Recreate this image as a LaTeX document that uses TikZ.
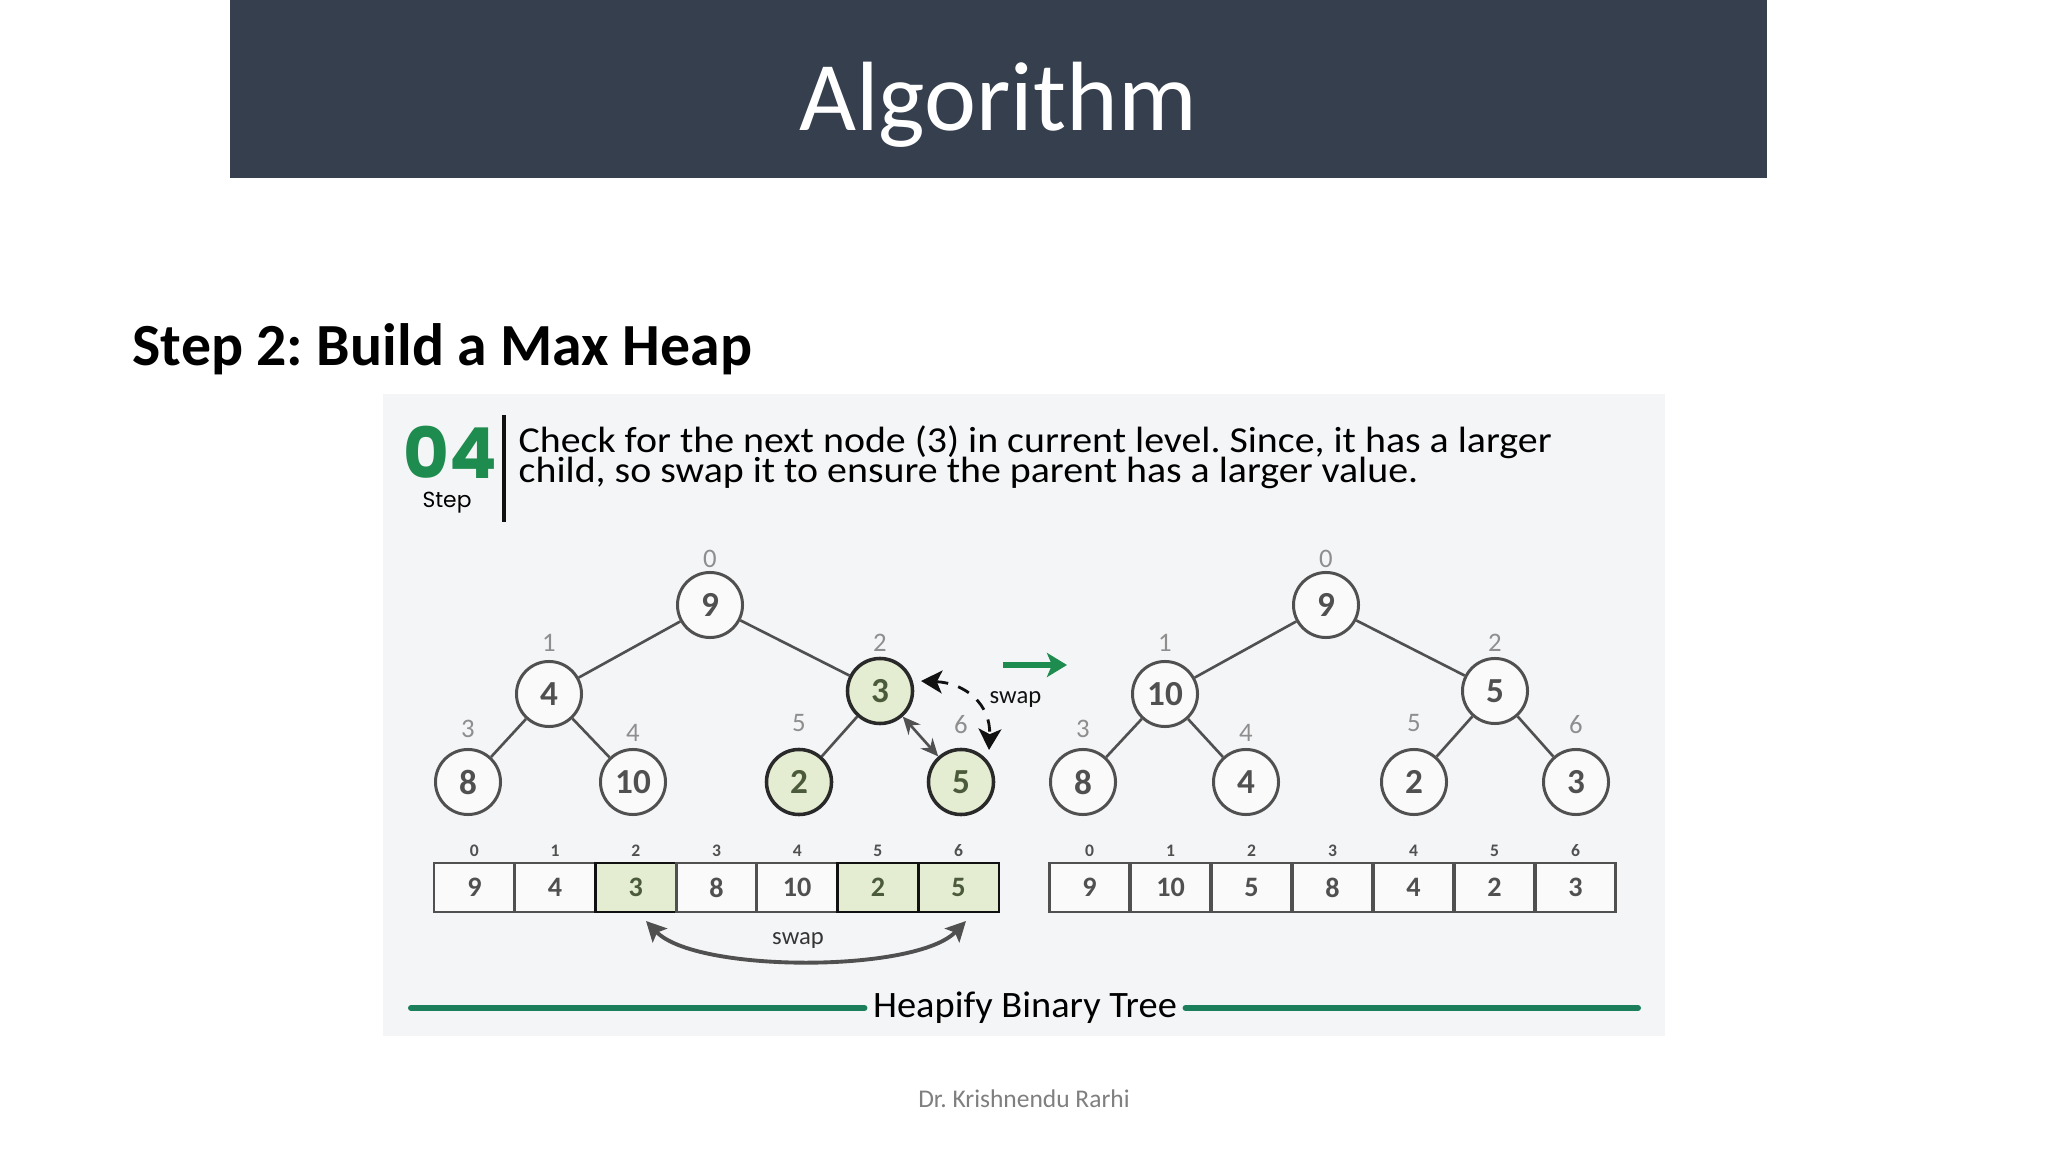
\documentclass[tikz,border=0pt]{standalone}
\usepackage{fontspec}
\setmainfont{Carlito}
\newfontfamily\descfont[FakeStretch=1.09]{Carlito}
\newfontfamily\bandfont[FakeStretch=1.03]{Carlito}
\newfontfamily\stepfont{Poppins}
\usetikzlibrary{arrows.meta,positioning,calc}
\definecolor{titlebar}{HTML}{353F4E}
\definecolor{panel}{HTML}{F4F5F7}
\definecolor{ink}{HTML}{111111}
\definecolor{nodegray}{HTML}{505050}
\definecolor{idxgray}{HTML}{8E8E8E}
\definecolor{hlfill}{HTML}{E4EDD1}
\definecolor{hltext}{HTML}{4A5A3A}
\definecolor{stepgreen}{HTML}{1E8C4E}
\definecolor{rulegreen}{HTML}{1B7F5C}
\definecolor{footgray}{HTML}{7F7F7F}
\frenchspacing
\tikzset{
  heapnode/.style={
    draw=nodegray, fill=white!55!panel, circle, line width=0.85pt,
    minimum size=0.65cm, inner sep=0pt,
    font=\bfseries\fontsize{10}{11}\selectfont, text=nodegray
  },
  hlnode/.style={heapnode, draw=ink!90, line width=1pt, fill=hlfill, text=hltext},
  idxlabel/.style={font=\fontsize{7.6}{8}\selectfont, text=idxgray, inner sep=0pt},
  treeedge/.style={draw=nodegray, line width=0.75pt},
  cell/.style={
    draw=nodegray, fill=white!55!panel, line width=0.8pt,
    minimum width=0.807cm, minimum height=0.49cm, inner sep=0pt,
    font=\bfseries\fontsize{8}{9}\selectfont, text=nodegray
  },
  hlcell/.style={cell, draw=ink, fill=hlfill, text=hltext},
  celltag/.style={font=\bfseries\fontsize{5}{6}\selectfont, text=nodegray, inner sep=0pt},
  swaptext/.style={font=\fontsize{7}{8}\selectfont, text=ink, inner sep=0pt}
}
\begin{document}
\begin{tikzpicture}[x=0.01cm,y=-0.01cm,>=Stealth]
  \fill[white] (0,0) rectangle (2048,1152);
  \useasboundingbox (0,0) rectangle (2048,1152);
  % slide frame
  \fill[titlebar] (230,0) rectangle (1767,178);
  \node[anchor=base, text=white, font=\fontsize{28}{30}\selectfont] (title) at (998,131) {Algorithm};
  \node[anchor=base west, inner sep=0pt, font=\bfseries\fontsize{17}{20}\selectfont] (heading) at (132,366) {Step 2: Build a Max Heap};
  \fill[panel] (383,394) rectangle (1665,1036);
  % step header
  \node[anchor=base west, inner sep=0pt, text depth=0pt, text=stepgreen, font=\stepfont\bfseries\fontsize{20}{22}\selectfont] (stepnum) at (403,479) {04};
  \node[anchor=base, inner sep=0pt, font=\stepfont\fontsize{6.2}{7}\selectfont] (steplbl) at (447,508) {Step};
  \draw[ink, line width=0.9pt] (504,415) -- (504,522);
  \node[anchor=base west, inner sep=0pt, font=\descfont\fontsize{10.4}{12}\selectfont] (desc1) at (518,453)
    {Check for the next node (3) in current level. Since, it has a larger};
  \node[anchor=base west, inner sep=0pt, font=\descfont\fontsize{10.4}{12}\selectfont] (desc2) at (518,483)
    {child, so swap it to ensure the parent has a larger value.};
  % left tree (before)
  \foreach \n/\x/\y/\ly/\v/\st in {0/710/605/559/9/heapnode,1/549/694/643/4/heapnode,2/880/691/643/3/hlnode,
      3/468/782/729/8/heapnode,4/633/782/733/10/heapnode,5/799/782/723/2/hlnode,6/961/782/725/5/hlnode} {
    \node[\st] (lt\n) at (\x,\y) {\v};
    \node[idxlabel] (ltidx\n) at (\x,\ly) {\n};
  }
  \draw[treeedge] (lt0) -- (lt1);
  \draw[treeedge] (lt0) -- (lt2);
  \draw[treeedge] (lt1) -- (lt3);
  \draw[treeedge] (lt1) -- (lt4);
  \draw[treeedge] (lt2) -- (lt5);
  \draw[treeedge, {Stealth[length=5pt,width=4.5pt]}-{Stealth[length=5pt,width=4.5pt]}] (lt2) -- (lt6);
  \coordinate (dashA) at (921,681);
  \coordinate (dashB) at (989,750);
  \draw[ink, line width=0.8pt, dash pattern=on 3.5pt off 3pt, {Stealth[length=6pt,width=6.5pt,inset=1.5pt]}-{Stealth[length=6pt,width=6.5pt,inset=1.5pt]}]
    (dashA) .. controls +(45,2) and +(2,-45) .. (dashB);
  \node[swaptext, anchor=west] (swapup) at (989,700) {swap};
  % green step arrow
  \coordinate (goA) at (1003,665);
  \coordinate (goB) at (1067,665);
  \draw[stepgreen, line width=1.5pt, -{Stealth[length=0.2cm,width=0.24cm,inset=0.05cm]}] (goA) -- (goB);
  % right tree (after)
  \foreach \n/\x/\y/\ly/\v in {0/1326/605/559/9,1/1165/694/643/10,2/1495/691/643/5,
      3/1083/782/729/8,4/1246/782/733/4,5/1414/782/723/2,6/1576/782/725/3} {
    \node[heapnode] (rt\n) at (\x,\y) {\v};
    \node[idxlabel] (rtidx\n) at (\x,\ly) {\n};
  }
  \foreach \a/\b in {0/1,0/2,1/3,1/4,2/5,2/6}
    \draw[treeedge] (rt\a) -- (rt\b);
  % arrays
  \foreach \i/\v/\st in {0/9/cell,1/4/cell,2/3/hlcell,3/8/cell,4/10/cell,5/2/hlcell,6/5/hlcell} {
    \node[\st] (la\i) at ({474.4+80.7*\i},887.5) {\v};
    \node[celltag] (latag\i) at ({474.4+80.7*\i},851) {\i};
  }
  \foreach \i/\v in {0/9,1/10,2/5,3/8,4/4,5/2,6/3} {
    \node[cell] (ra\i) at ({1089.5+81*\i},887.5) {\v};
    \node[celltag] (ratag\i) at ({1089.5+81*\i},851) {\i};
  }
  \coordinate (swapL) at (646,921);
  \coordinate (swapR) at (966,921);
  \draw[nodegray, line width=1.1pt, {Stealth[length=0.2cm,width=0.2cm,inset=0.04cm]}-{Stealth[length=0.2cm,width=0.2cm,inset=0.04cm]}]
    (swapL) .. controls +(50,52) and +(-50,52) .. (swapR);
  \node[swaptext, text=ink!85] (swapdown) at (798,941) {swap};
  % footer band
  \node[anchor=base, inner sep=0pt, font=\bandfont\fontsize{10.6}{12}\selectfont] (band) at (1025,1017) {Heapify Binary Tree};
  \coordinate (bandL) at (411,1008);
  \coordinate (bandR) at (1638,1008);
  \draw[rulegreen, line width=1.7pt, line cap=round] (bandL) -- ([xshift=-0.08cm]band.west |- bandL);
  \draw[rulegreen, line width=1.7pt, line cap=round] ([xshift=0.08cm]band.east |- bandR) -- (bandR);
  \node[anchor=base, text=footgray, font=\fontsize{7.25}{8}\selectfont] (author) at (1024,1107) {Dr. Krishnendu Rarhi};
\end{tikzpicture}
\end{document}
